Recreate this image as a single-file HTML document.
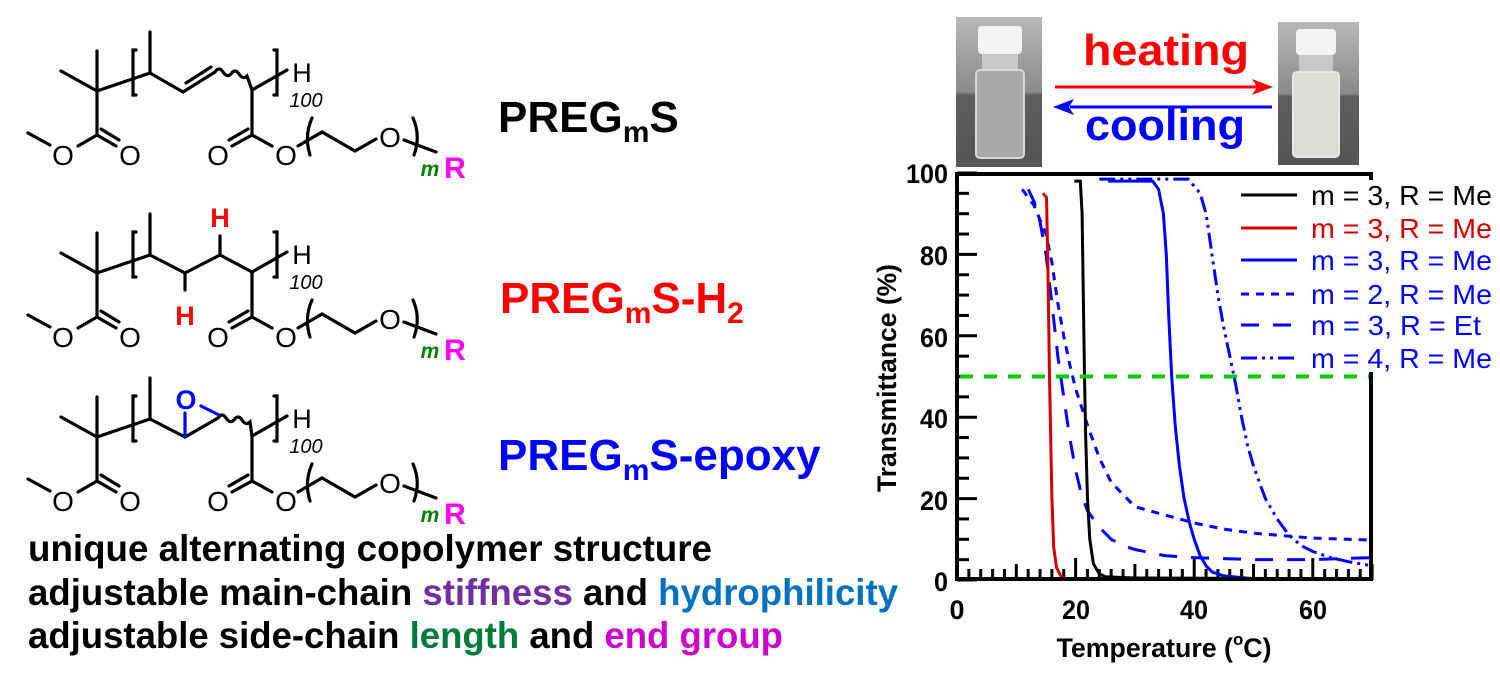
<!DOCTYPE html>
<html><head><meta charset="utf-8">
<style>
html,body{margin:0;padding:0;background:#fff;}
svg{display:block;font-family:"Liberation Sans",sans-serif;}
</style></head>
<body>
<svg id="s" width="1500" height="679" viewBox="0 0 1500 679" xmlns="http://www.w3.org/2000/svg">
<defs>
<g id="sk" stroke="#000" stroke-width="3.2" fill="none" stroke-linecap="round">
  <line x1="61" y1="71" x2="97" y2="91"/>
  <line x1="97" y1="51" x2="97" y2="135"/>
  <line x1="97" y1="91" x2="150" y2="73"/>
  <path d="M136,50 L133,50 L133,95 L136,95"/>
  <line x1="150" y1="32" x2="150" y2="73"/>
  <line x1="252" y1="90" x2="287" y2="70"/>
  <path d="M274,50 L277,50 L277,95 L274,95"/>
  <line x1="252" y1="90" x2="252" y2="135"/>
  <line x1="252" y1="135" x2="272" y2="146"/>
  <line x1="252" y1="135" x2="232" y2="146"/>
  <line x1="248" y1="129" x2="229" y2="140"/>
  <line x1="97" y1="135" x2="78" y2="146"/>
  <line x1="50" y1="145" x2="28" y2="133"/>
  <line x1="97" y1="135" x2="116" y2="146"/>
  <line x1="101" y1="129" x2="119" y2="140"/>
  <path d="M312,118 Q304,136 310,155"/>
  <path d="M298,146 L322,132 L355,151 L376,139"/>
  <path d="M413,118 Q421,136 414,155"/>
  <line x1="404" y1="140" x2="436" y2="152"/>
</g>
<g id="sktext" font-size="28" text-anchor="middle">
  <text x="63" y="165">O</text>
  <text x="130" y="165">O</text>
  <text x="218" y="165">O</text>
  <text x="286" y="165">O</text>
  <text x="390" y="147">O</text>
  <text x="302" y="82" font-size="27">H</text>
  <text x="306" y="107" font-size="20" font-style="italic">100</text>
  <text x="430" y="176" font-size="21" font-style="italic" font-weight="bold" fill="#008000">m</text>
  <text x="455" y="178" font-size="30" font-weight="bold" fill="#ff00ff">R</text>
</g>
</defs>

<g>
<use href="#sk"/><use href="#sktext"/>
<g stroke="#000" stroke-width="3.2" fill="none" stroke-linecap="round">
<path d="M150,73 L183,92 L215,72"/>
<line x1="186" y1="83" x2="211" y2="67"/>
<path d="M215,72 q4,-6 8,0 q4,6 8,2 q4,-6 8,0 q4,6 8,2 L252,90"/>
</g>
</g>
<g transform="translate(0,182)">
<use href="#sk"/><use href="#sktext"/>
<g stroke="#000" stroke-width="3.2" fill="none" stroke-linecap="round">
<path d="M150,73 L185,91 L220,73 L252,90"/>
<line x1="185" y1="91" x2="185" y2="108"/>
<line x1="220" y1="73" x2="220" y2="54"/>
</g>
<text x="185" y="143" font-size="27" font-weight="bold" fill="#ff0000" text-anchor="middle">H</text>
<text x="220" y="45" font-size="27" font-weight="bold" fill="#ff0000" text-anchor="middle">H</text>
</g>
<g transform="translate(0,346)">
<use href="#sk"/><use href="#sktext"/>
<g stroke="#000" stroke-width="3.2" fill="none" stroke-linecap="round">
<path d="M150,73 L185,91 L218,72"/>
<path d="M218,72 q4,-6 8,0 q4,6 8,2 q4,-6 8,0 q4,6 8,2 L252,90"/>
</g>
<g stroke="#0000ff" stroke-width="3.2" stroke-linecap="round">
<line x1="185" y1="91" x2="185" y2="67"/>
<line x1="201" y1="60" x2="219" y2="69"/>
</g>
<text x="186" y="63" font-size="27" font-weight="bold" fill="#0000ff" text-anchor="middle">O</text>
</g>

<g font-weight="bold" font-size="44">
<text x="498" y="132" fill="#000">PREG<tspan font-size="30" dy="10">m</tspan><tspan dy="-10">S</tspan></text>
<text x="500" y="313" fill="#ff0000">PREG<tspan font-size="30" dy="10">m</tspan><tspan dy="-10">S-H</tspan><tspan font-size="30" dy="10">2</tspan></text>
<text x="498" y="470" fill="#0000ff">PREG<tspan font-size="30" dy="10">m</tspan><tspan dy="-10">S-epoxy</tspan></text>
</g>
<g font-weight="bold" font-size="37">
<text x="28" y="561" textLength="684" lengthAdjust="spacingAndGlyphs">unique alternating copolymer structure</text>
<text x="28" y="605" textLength="870" lengthAdjust="spacingAndGlyphs">adjustable main-chain <tspan fill="#7030a0">stiffness</tspan> and <tspan fill="#0070c0">hydrophilicity</tspan></text>
<text x="28" y="648" textLength="755" lengthAdjust="spacingAndGlyphs">adjustable side-chain <tspan fill="#007a3d">length</tspan> and <tspan fill="#cc00cc">end group</tspan></text>
</g>

<defs>
<linearGradient id="bg" x1="0" y1="0" x2="0" y2="1">
<stop offset="0" stop-color="#b8b8b8"/><stop offset="0.5" stop-color="#8a8a8a"/><stop offset="0.52" stop-color="#5e5e5e"/><stop offset="1" stop-color="#555"/>
</linearGradient>
</defs>
<rect x="956" y="17" width="86" height="150" fill="url(#bg)"/>
<rect x="978" y="26" width="44" height="28" rx="4" fill="#f4f4f4"/>
<rect x="982" y="54" width="36" height="16" fill="#c8c8c8"/>
<rect x="976" y="70" width="48" height="88" rx="4" fill="#a9a9a9" stroke="#d8d8d8" stroke-width="2"/>
<rect x="1278" y="22" width="81" height="143" fill="url(#bg)"/>
<rect x="1296" y="29" width="40" height="26" rx="4" fill="#f4f4f4"/>
<rect x="1299" y="55" width="34" height="17" fill="#c8c8c8"/>
<rect x="1293" y="72" width="46" height="85" rx="4" fill="#dcdcd8" stroke="#e8e8e8" stroke-width="2"/>

<text x="1083" y="65" font-size="44" font-weight="bold" fill="#ff0000" textLength="166" lengthAdjust="spacingAndGlyphs">heating</text>
<line x1="1055" y1="87" x2="1258" y2="87" stroke="#ff0000" stroke-width="3"/>
<path d="M1273,87 L1252,79 L1257,87 L1252,95 Z" fill="#ff0000"/>
<line x1="1070" y1="107" x2="1272" y2="107" stroke="#0000ff" stroke-width="3"/>
<path d="M1053,107 L1074,99 L1069,107 L1074,115 Z" fill="#0000ff"/>
<text x="1085" y="140" font-size="44" font-weight="bold" fill="#0000ff" textLength="160" lengthAdjust="spacingAndGlyphs">cooling</text>

<g id="chart"></g>
<rect x="957" y="174" width="414" height="405" fill="none" stroke="#000" stroke-width="4"/>
<rect x="1302" y="180" width="198" height="192" fill="#fff"/>
<g font-weight="bold" font-size="27" text-anchor="end">
<text x="948" y="183" textLength="42" lengthAdjust="spacingAndGlyphs">100</text>
<text x="948" y="265" textLength="28" lengthAdjust="spacingAndGlyphs">80</text>
<text x="948" y="347" textLength="28" lengthAdjust="spacingAndGlyphs">60</text>
<text x="948" y="428" textLength="28" lengthAdjust="spacingAndGlyphs">40</text>
<text x="948" y="510" textLength="28" lengthAdjust="spacingAndGlyphs">20</text>
<text x="948" y="591" textLength="14" lengthAdjust="spacingAndGlyphs">0</text>
</g>
<g font-weight="bold" font-size="27" text-anchor="middle">
<text x="957" y="619">0</text>
<text x="1076" y="619" textLength="28" lengthAdjust="spacingAndGlyphs">20</text>
<text x="1194" y="619" textLength="28" lengthAdjust="spacingAndGlyphs">40</text>
<text x="1313" y="619" textLength="28" lengthAdjust="spacingAndGlyphs">60</text>
<text x="1164" y="657" textLength="215" lengthAdjust="spacingAndGlyphs">Temperature (<tspan font-size="17" dy="-12">o</tspan><tspan dy="12">C)</tspan></text>
<text transform="translate(896,378) rotate(-90)" textLength="228" lengthAdjust="spacingAndGlyphs">Transmittance (%)</text>
</g>
<g font-size="28">
<text x="1311" y="205" fill="#000" textLength="181" lengthAdjust="spacingAndGlyphs">m = 3, R = Me</text>
<text x="1311" y="238" fill="#d00000" textLength="181" lengthAdjust="spacingAndGlyphs">m = 3, R = Me</text>
<text x="1311" y="270" fill="#0000ff" textLength="181" lengthAdjust="spacingAndGlyphs">m = 3, R = Me</text>
<text x="1311" y="304" fill="#0000ff" textLength="181" lengthAdjust="spacingAndGlyphs">m = 2, R = Me</text>
<text x="1311" y="335" fill="#0000ff" textLength="170" lengthAdjust="spacingAndGlyphs">m = 3, R = Et</text>
<text x="1311" y="368" fill="#0000ff" textLength="181" lengthAdjust="spacingAndGlyphs">m = 4, R = Me</text>
</g>
<g stroke-width="3" fill="none">
<line x1="1241" y1="195" x2="1297" y2="195" stroke="#000"/>
<line x1="1241" y1="228" x2="1297" y2="228" stroke="#d00000"/>
<line x1="1241" y1="260" x2="1297" y2="260" stroke="#0000ff"/>
<line x1="1241" y1="294" x2="1297" y2="294" stroke="#0000ff" stroke-dasharray="8,7"/>
<line x1="1241" y1="325" x2="1297" y2="325" stroke="#0000ff" stroke-dasharray="18,14"/>
<line x1="1241" y1="358" x2="1297" y2="358" stroke="#0000ff" stroke-dasharray="16,5,3,5,3,5"/>
</g>
</svg>
<script>
(function(){
var X=function(t){return 957+t*5.93;}, Y=function(p){return 580-p*4.07;};
var ns="http://www.w3.org/2000/svg", g=document.getElementById('chart');
function add(tag,attrs){var e=document.createElementNS(ns,tag);for(var k in attrs)e.setAttribute(k,attrs[k]);g.appendChild(e);return e;}
for(var p=0;p<=100;p+=5){var L=(p%20==0)?20:12;add('line',{x1:957,y1:Y(p),x2:957+L,y2:Y(p),stroke:'#000','stroke-width':3});}
for(var t=0;t<=70;t+=2){var L=(t%20==0)?22:(t%10==0?16:11);add('line',{x1:X(t),y1:580,x2:X(t),y2:580-L,stroke:'#000','stroke-width':3});}
function path(pts,st){var d='';pts.forEach(function(q,i){d+=(i?'L':'M')+X(q[0]).toFixed(1)+','+Y(q[1]).toFixed(1);});var a={d:d,fill:'none','stroke-width':3};for(var k in st)a[k]=st[k];add('path',a);}
path([[11,96],[13,92],[15,85],[16,78],[17,68],[18,60],[19,53],[20,47],[22,38],[24,30],[26,24],[28,21],[30,18],[35,16],[40,14],[45,12.5],[50,11.5],[60,10.3],[70,9.8]],{stroke:'#0000ff','stroke-dasharray':'8,7'});
path([[12,96],[13,93],[14,88],[15,80],[16,68],[17,55],[18,45],[19,35],[20,27],[21,21],[22,17],[24,13],[26,10],[28,8.5],[30,7.5],[35,6],[40,5.5],[50,5],[60,5],[70,5.5]],{stroke:'#0000ff','stroke-dasharray':'18,14'});
path([[24,98.5],[39,98.5],[41,95],[42,90],[43,80],[44,70],[45,62],[46,55],[47,48],[48,40],[49,33],[50,28],[51,24],[52,20],[54,15],[56,11],[58,8.5],[60,7],[63,5.5],[66,4.5],[70,3.5]],{stroke:'#0000ff','stroke-dasharray':'16,5,3,5,3,5'});
path([[25.5,98],[33,98],[34,96],[34.8,90],[35.3,80],[35.7,65],[36.2,50],[36.8,38],[37.5,28],[38.3,20],[39.2,14],[40,10],[41,6],[42,3.5],[43,2],[45,1],[50,0.3],[70,0.2]],{stroke:'#0000ff'});
path([[19.8,98],[20.8,98],[21.1,90],[21.3,70],[21.5,50],[21.7,35],[22,20],[22.4,10],[23,4],[24,1.5],[25,0.8],[30,0.5],[70,0.3]],{stroke:'#000'});
path([[14.5,95],[15.1,94],[15.3,80],[15.5,60],[15.6,50],[15.8,35],[16,20],[16.3,8],[16.8,3],[17.5,1],[18.5,0]],{stroke:'#d00000'});
add('line',{x1:960,y1:Y(50),x2:1371,y2:Y(50),stroke:'#00cc00','stroke-width':4,'stroke-dasharray':'13,11'});
})();
</script>
</body></html>
